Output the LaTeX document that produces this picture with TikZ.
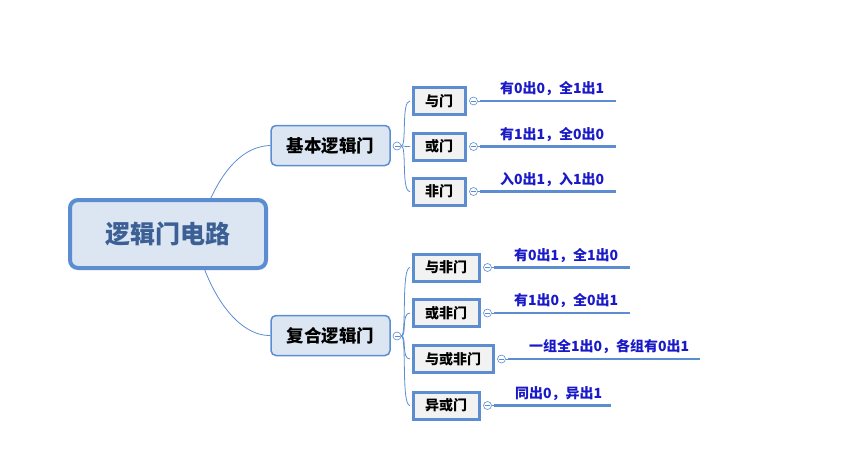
\documentclass[tikz,border=0pt]{standalone}
\usepackage{fontspec}
\setmainfont{Noto Sans CJK SC}
\usetikzlibrary{calc}
\definecolor{edge}{RGB}{91,141,208}
\definecolor{rootfill}{RGB}{220,230,242}
\definecolor{leaffill}{RGB}{242,242,242}
\definecolor{labelblue}{RGB}{25,25,200}
\definecolor{roottext}{RGB}{60,95,150}
\tikzset{
  rootbox/.style={draw=edge, line width=4pt, fill=rootfill, rounded corners=8pt, minimum width=196pt, minimum height=68pt, inner sep=0pt, font=\fontsize{25}{29}\selectfont\bfseries, text=roottext},
  midbox/.style={draw=edge, line width=1.5pt, fill=rootfill, rounded corners=5pt, minimum width=119pt, minimum height=40pt, inner sep=0pt, font=\fontsize{17.5}{20}\selectfont\bfseries},
  leafbox/.style={draw=edge, line width=3pt, fill=leaffill, minimum height=27pt, inner sep=0pt, font=\fontsize{14}{16}\selectfont\bfseries},
  knob/.style={circle, draw=edge, line width=0.6pt, fill=white, minimum size=8pt, inner sep=0pt, path picture={\draw[edge, line width=0.6pt] ($(path picture bounding box.west)+(1.5pt,0)$) -- ($(path picture bounding box.east)+(-1.5pt,0)$);}},
  thin/.style={draw=edge, line width=0.8pt},
  bar/.style={draw=edge, line width=2.5pt},
  lab/.style={anchor=south west, inner sep=0pt, text=labelblue, font=\fontsize{14}{16}\selectfont\bfseries},
}
\begin{document}
\begin{tikzpicture}[x=1pt, y=-1pt]
\useasboundingbox (0,0) rectangle (842,448);
% root and mid nodes
\node[rootbox] (root) at (168,234) {逻辑门电路};
\node[midbox] (basic) at (330.5,145.5) {基本逻辑门};
\node[midbox] (comp) at (330.5,335.5) {复合逻辑门};
\coordinate (rt) at (210,200);
\coordinate (rb) at (204,268);
\draw[thin] (rt) .. controls (228,160) and (250,146) .. (basic.west);
\draw[thin] (rb) .. controls (220,310) and (245,336) .. (comp.west);
% leaf boxes
\node[leafbox, minimum width=52pt] (g1) at (439,101) {与门};
\node[leafbox, minimum width=52pt] (g2) at (439,146.5) {或门};
\node[leafbox, minimum width=52pt] (g3) at (439,191.5) {非门};
\node[leafbox, minimum width=66pt] (g4) at (446,267.5) {与非门};
\node[leafbox, minimum width=66pt] (g5) at (446,313) {或非门};
\node[leafbox, minimum width=80pt] (g6) at (453,359) {与或非门};
\node[leafbox, minimum width=66pt] (g7) at (446,405.5) {异或门};
% mid knobs and branches
\node[knob] (kb) at (397,146) {};
\node[knob] (kc) at (397,336) {};
\foreach \g in {g1,g2,g3}{
  \draw[thin] (kb.east) .. controls (407,146) and (401,0|-\g.west) .. ([xshift=-1.5pt]\g.west);
}
\foreach \g in {g4,g5,g6,g7}{
  \draw[thin] (kc.east) .. controls (407,336) and (401,0|-\g.west) .. ([xshift=-1.5pt]\g.west);
}
% leaf knobs, bars, labels
\newcommand{\leafrow}[5]{%
  \node[knob] (k#1) at ([xshift=7pt]#1.east) {};
  \coordinate (s#1) at ([xshift=2pt]k#1.east);
  \coordinate (e#1) at (#2,0|-k#1.center);
  \draw[thin] (k#1.east) -- (s#1);
  \draw[bar] (s#1) -- (e#1);
  \node[lab] (t#1) at ([xshift=#3pt,yshift=#4pt]s#1) {#5};
}
\leafrow{g1}{616}{20}{5}{有0出0，全1出1}
\leafrow{g2}{616}{20}{5}{有1出1，全0出0}
\leafrow{g3}{616}{20}{5}{入0出1，入1出0}
\leafrow{g4}{630}{20}{5}{有0出1，全1出0}
\leafrow{g5}{630}{20}{5}{有1出0，全0出1}
\leafrow{g6}{700}{21}{5}{一组全1出0，各组有0出1}
\leafrow{g7}{611}{21}{5}{同出0，异出1}
\end{tikzpicture}
\end{document}
